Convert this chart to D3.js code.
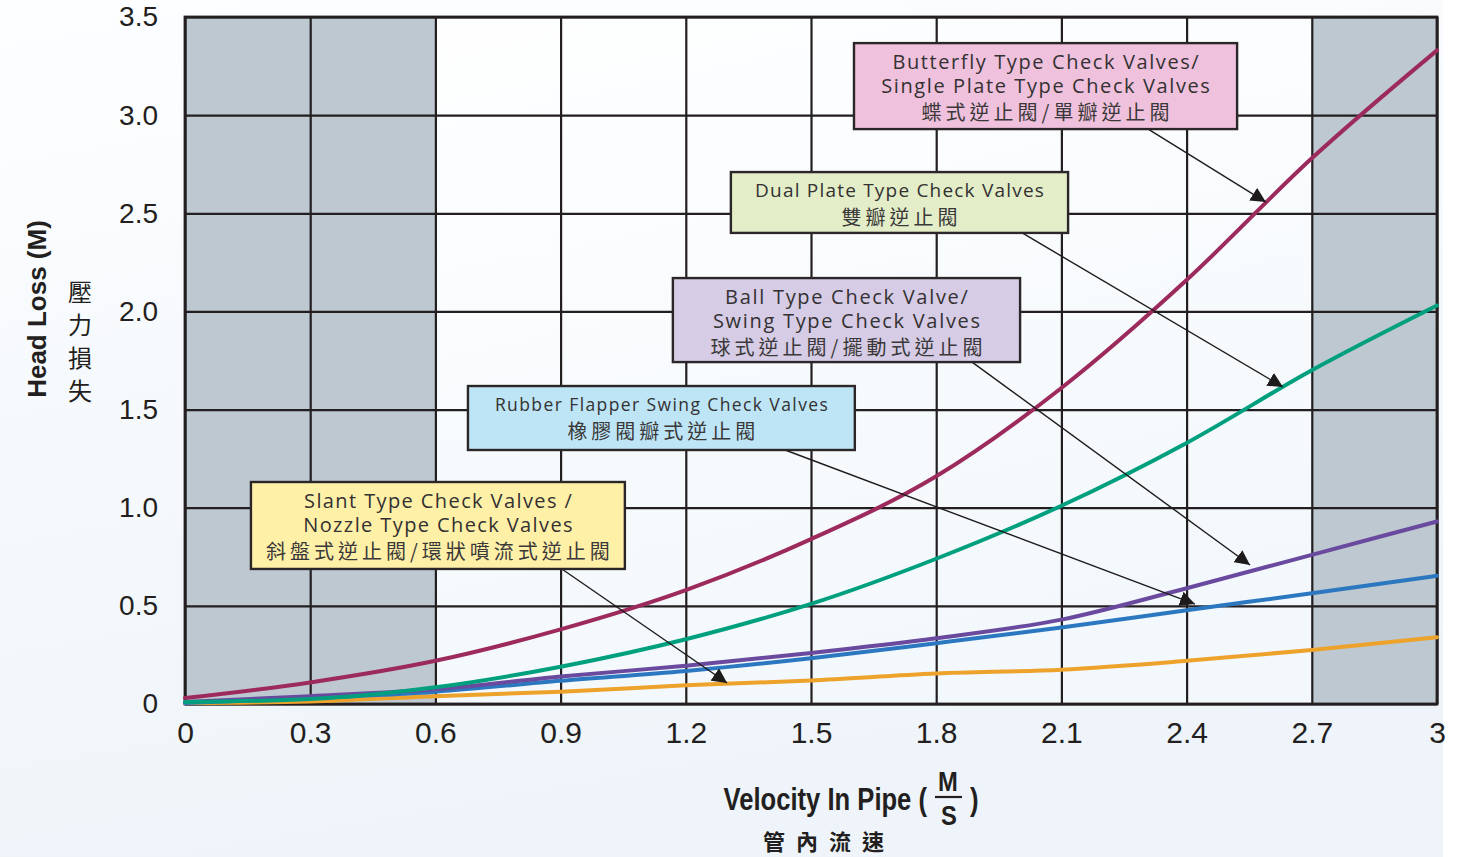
<!DOCTYPE html>
<html>
<head>
<meta charset="utf-8">
<script src="https://cdn.jsdelivr.net/npm/d3@7"></script>
<style>
  html, body { margin: 0; padding: 0; background: #ffffff; }
  svg { display: block; }
</style>
</head>
<body>
<div id="chart"></div>
<script>
// Velocity in pipe (m/s), sampled every 0.3
const velocity = [0, 0.3, 0.6, 0.9, 1.2, 1.5, 1.8, 2.1, 2.4, 2.7, 3.0];

// Head loss (m) for each valve type
const butterflyLoss = [0.03, 0.11, 0.22, 0.38, 0.58, 0.84, 1.16, 1.61, 2.16, 2.78, 3.33];
const dualPlateLoss = [0.01, 0.025, 0.085, 0.19, 0.33, 0.51, 0.74, 1.01, 1.33, 1.70, 2.03];
const ballSwingLoss = [0.01, 0.04, 0.075, 0.14, 0.195, 0.26, 0.335, 0.43, 0.59, 0.76, 0.93];
const rubberLoss    = [0.005, 0.03, 0.063, 0.118, 0.168, 0.233, 0.31, 0.39, 0.478, 0.564, 0.653];
const slantLoss     = [0.005, 0.013, 0.04, 0.063, 0.095, 0.12, 0.155, 0.175, 0.22, 0.275, 0.34];

const xTicks = [0, 0.3, 0.6, 0.9, 1.2, 1.5, 1.8, 2.1, 2.4, 2.7, 3.0];
const xTickLabels = ["0", "0.3", "0.6", "0.9", "1.2", "1.5", "1.8", "2.1", "2.4", "2.7", "3"];
const yTicks = [0, 0.5, 1.0, 1.5, 2.0, 2.5, 3.0, 3.5];
const yTickLabels = ["0", "0.5", "1.0", "1.5", "2.0", "2.5", "3.0", "3.5"];

// velocity ranges shaded grey
const shadedBands = [[0, 0.6], [2.7, 3.0]];

const seriesNames = ["butterfly", "dualPlate", "ballSwing", "rubber", "slant"];
const seriesValues = [butterflyLoss, dualPlateLoss, ballSwingLoss, rubberLoss, slantLoss];

const labelEnglish = [
    ["Butterfly Type Check Valves/", "Single Plate Type Check Valves"],
    ["Dual Plate Type Check Valves"],
    ["Ball Type Check Valve/", "Swing Type Check Valves"],
    ["Rubber Flapper Swing Check Valves"],
    ["Slant Type Check Valves /", "Nozzle Type Check Valves"]
];
const labelChinese = [
    "蝶式逆止閥/單瓣逆止閥",
    "雙瓣逆止閥",
    "球式逆止閥/擺動式逆止閥",
    "橡膠閥瓣式逆止閥",
    "斜盤式逆止閥/環狀噴流式逆止閥"
];

// styling / layout, kept apart from the data
const seriesColors = ["#9d2a5d", "#00a07f", "#6a4a9e", "#2b78c0", "#eda22c"];
const boxFills = ["#efc1dc", "#e3eec8", "#d6cce5", "#bde5f5", "#fff0a8"];
const enFontSize = [20, 19, 20, 17.5, 20];
const enSpacing = [1.6, 1.2, 1.7, 1.4, 1.4];
// box [x0, yTop, x1, yBottom] and arrow [startX on box bottom, tipX, tipY] in data units
const boxLayout = [
    { box: [1.603, 3.367, 2.521, 2.929], arrow: [2.308, 2.590, 2.557] },
    { box: [1.308, 2.710, 2.116, 2.400], arrow: [2.006, 2.631, 1.615] },
    { box: [1.169, 2.170, 2.001, 1.742], arrow: [1.886, 2.552, 0.708] },
    { box: [0.678, 1.620, 1.605, 1.294], arrow: [1.438, 2.420, 0.509] },
    { box: [0.158, 1.131, 1.054, 0.688], arrow: [0.903, 1.299, 0.107] }
];

const W = 1481, H = 857;
const plot = { left: 185, right: 1437, top: 17, bottom: 704 };

const svg = d3.select("#chart").append("svg")
    .attr("width", W)
    .attr("height", H);

// page background
const defs = svg.append("defs");
const bg = defs.append("linearGradient").attr("id", "bg")
    .attr("x1", 0).attr("y1", 0).attr("x2", 0.3).attr("y2", 1);
bg.append("stop").attr("offset", "0%").attr("stop-color", "#fdfeff");
bg.append("stop").attr("offset", "100%").attr("stop-color", "#eef4f9");
const inner = defs.append("linearGradient").attr("id", "inner")
    .attr("x1", 0).attr("y1", 0).attr("x2", 0.4).attr("y2", 1);
inner.append("stop").attr("offset", "0%").attr("stop-color", "#ffffff");
inner.append("stop").attr("offset", "100%").attr("stop-color", "#f3f8fc");

defs.append("marker")
    .attr("id", "arrowhead")
    .attr("viewBox", "0 0 10 10")
    .attr("refX", 10).attr("refY", 5)
    .attr("markerWidth", 15).attr("markerHeight", 15)
    .attr("markerUnits", "userSpaceOnUse")
    .attr("orient", "auto")
    .append("path")
    .attr("d", "M0,0 L10,5 L0,10 Z")
    .attr("fill", "#1e1b1c");

svg.append("rect")
    .attr("x", 0).attr("y", 0)
    .attr("width", 1443).attr("height", H)
    .attr("fill", "url(#bg)");

// scales
const x = d3.scaleLinear().domain([0, 3]).range([plot.left, plot.right]);
const y = d3.scaleLinear().domain([0, 3.5]).range([plot.bottom, plot.top]);

svg.append("rect")
    .attr("x", plot.left).attr("y", plot.top)
    .attr("width", plot.right - plot.left)
    .attr("height", plot.bottom - plot.top)
    .attr("fill", "url(#inner)");

svg.append("g").selectAll("rect")
    .data(shadedBands)
    .join("rect")
    .attr("x", d => x(d[0]))
    .attr("y", plot.top)
    .attr("width", d => x(d[1]) - x(d[0]))
    .attr("height", plot.bottom - plot.top)
    .attr("fill", "#bdc8d0");

// grid
const gridX = svg.append("g")
    .attr("transform", `translate(0,${plot.bottom})`)
    .call(d3.axisBottom(x).tickValues(xTicks).tickSize(-(plot.bottom - plot.top)).tickFormat(""));
const gridY = svg.append("g")
    .attr("transform", `translate(${plot.left},0)`)
    .call(d3.axisLeft(y).tickValues(yTicks).tickSize(-(plot.right - plot.left)).tickFormat(""));
[gridX, gridY].forEach(g => {
    g.select(".domain").remove();
    g.selectAll(".tick line").attr("stroke", "#231f20").attr("stroke-width", 2.2);
});

svg.append("rect")
    .attr("x", plot.left).attr("y", plot.top)
    .attr("width", plot.right - plot.left)
    .attr("height", plot.bottom - plot.top)
    .attr("fill", "none")
    .attr("stroke", "#231f20")
    .attr("stroke-width", 2.8);

// tick labels
const xAxis = svg.append("g")
    .attr("transform", `translate(0,${plot.bottom})`)
    .call(d3.axisBottom(x).tickValues(xTicks).tickSize(0).tickPadding(18)
        .tickFormat((d, i) => xTickLabels[i]));
const yAxis = svg.append("g")
    .attr("transform", `translate(${plot.left},0)`)
    .call(d3.axisLeft(y).tickValues(yTicks).tickSize(0).tickPadding(27)
        .tickFormat((d, i) => yTickLabels[i]));
[xAxis, yAxis].forEach(g => {
    g.select(".domain").remove();
    g.selectAll("text")
        .attr("fill", "#231f20")
        .style("font-family", "'Liberation Sans', Arial, sans-serif");
});
xAxis.selectAll("text").style("font-size", "30px");
yAxis.selectAll("text").style("font-size", "28px");

// curves
const line = d3.line()
    .x(d => x(d[0]))
    .y(d => y(d[1]))
    .curve(d3.curveMonotoneX);

svg.append("g").selectAll("path")
    .data(seriesValues.map((vals, i) => ({ name: seriesNames[i], pts: vals.map((v, j) => [velocity[j], v]) })).reverse())
    .join("path")
    .attr("class", d => "curve " + d.name)
    .attr("d", d => line(d.pts))
    .attr("fill", "none")
    .attr("stroke", d => seriesColors[seriesNames.indexOf(d.name)])
    .attr("stroke-width", 4)
    .attr("stroke-linecap", "round");

// annotation boxes with arrows
const notes = svg.append("g");
boxLayout.forEach((lay, i) => {
    const [bx0, by0, bx1, by1] = lay.box;
    const left = x(bx0), top = y(by0), right = x(bx1), bottom = y(by1);
    const cx = (left + right) / 2;
    const g = notes.append("g");

    g.append("line")
        .attr("x1", x(lay.arrow[0])).attr("y1", bottom)
        .attr("x2", x(lay.arrow[1])).attr("y2", y(lay.arrow[2]))
        .attr("stroke", "#1e1b1c")
        .attr("stroke-width", 1.4)
        .attr("marker-end", "url(#arrowhead)");

    g.append("rect")
        .attr("x", left).attr("y", top)
        .attr("width", right - left).attr("height", bottom - top)
        .attr("fill", boxFills[i])
        .attr("stroke", "#2b2728")
        .attr("stroke-width", 2.4);

    const en = labelEnglish[i];
    en.forEach((t, k) => {
        g.append("text")
            .attr("x", cx + enSpacing[i] / 2).attr("y", top + 18 + 24 * k)
            .attr("text-anchor", "middle")
            .attr("dominant-baseline", "central")
            .attr("fill", "#333132")
            .style("font-family", "'Open Sans', 'Noto Sans', sans-serif")
            .style("font-size", enFontSize[i] + "px")
            .style("letter-spacing", enSpacing[i] + "px")
            .text(t);
    });
    g.append("text")
        .attr("x", cx + 2).attr("y", top + 20 + 24 * en.length)
        .attr("text-anchor", "middle")
        .attr("dominant-baseline", "central")
        .attr("fill", "#3a3839")
        .style("font-family", "'Noto Sans CJK TC', 'Noto Sans CJK SC', sans-serif")
        .style("font-size", "20px")
        .style("letter-spacing", "4px")
        .text(labelChinese[i]);
});

// axis titles
svg.append("text")
    .attr("transform", "translate(37,309) rotate(-90)")
    .attr("text-anchor", "middle")
    .attr("dominant-baseline", "central")
    .attr("fill", "#231f20")
    .style("font-family", "'Liberation Sans', Arial, sans-serif")
    .style("font-weight", "bold")
    .style("font-size", "26px")
    .text("Head Loss (M)");

svg.append("text")
    .attr("x", 80).attr("y", 339)
    .attr("fill", "#231f20")
    .style("font-family", "'Noto Sans CJK TC', sans-serif")
    .style("font-size", "24px")
    .selectAll("tspan")
    .data(["壓", "力", "損", "失"])
    .join("tspan")
    .attr("x", 80)
    .attr("y", (d, i) => 290 + 33 * i)
    .attr("text-anchor", "middle")
    .attr("dominant-baseline", "central")
    .text(d => d);

const xt = svg.append("g").attr("fill", "#231f20")
    .style("font-family", "'Liberation Sans', Arial, sans-serif");
// condensed look: squeeze the title horizontally
xt.append("text")
    .attr("transform", "translate(927,810) scale(0.8,1)")
    .attr("text-anchor", "end")
    .style("font-size", "32px")
    .style("font-weight", "bold")
    .text("Velocity In Pipe (");
xt.append("text")
    .attr("transform", "translate(948,791) scale(0.85,1)")
    .attr("text-anchor", "middle")
    .style("font-size", "28px")
    .style("font-weight", "bold")
    .text("M");
xt.append("line")
    .attr("x1", 935).attr("x2", 962)
    .attr("y1", 797).attr("y2", 797)
    .attr("stroke", "#231f20").attr("stroke-width", 2.2);
xt.append("text")
    .attr("transform", "translate(949,825) scale(0.85,1)")
    .attr("text-anchor", "middle")
    .style("font-size", "28px")
    .style("font-weight", "bold")
    .text("S");
xt.append("text")
    .attr("transform", "translate(970,810) scale(0.8,1)")
    .style("font-size", "32px")
    .style("font-weight", "bold")
    .text(")");
xt.append("text")
    .attr("x", 829).attr("y", 840)
    .attr("text-anchor", "middle")
    .attr("dominant-baseline", "central")
    .style("font-family", "'Noto Sans CJK TC', sans-serif")
    .style("font-size", "22px")
    .style("font-weight", "bold")
    .style("letter-spacing", "11px")
    .text("管內流速");
</script>
</body>
</html>
